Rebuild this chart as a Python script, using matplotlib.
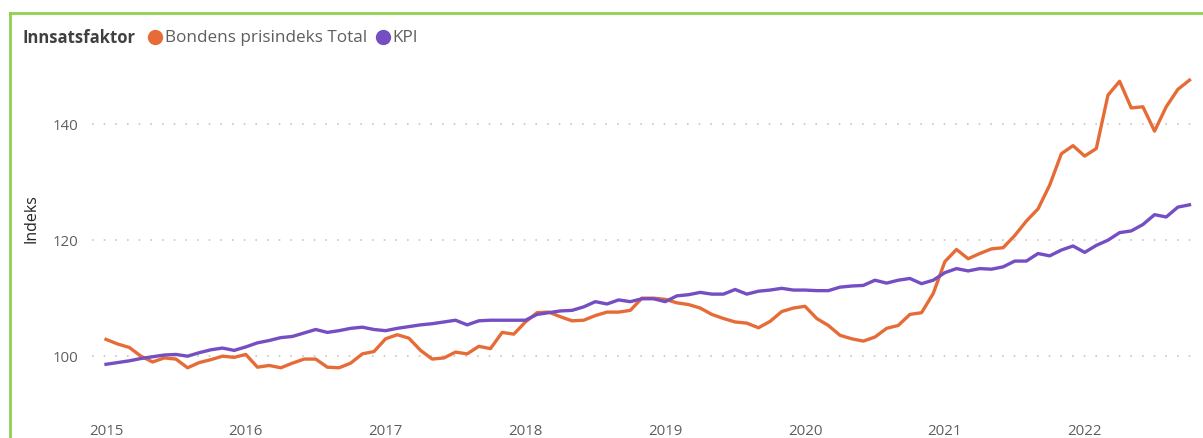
import numpy as np
import matplotlib.pyplot as plt
from matplotlib.lines import Line2D

plt.rcParams['font.family'] = ['Open Sans', 'DejaVu Sans']

# Monthly index values, Jan 2015 - Oct 2022
years = ['2015', '2016', '2017', '2018', '2019', '2020', '2021', '2022']

bondens = [
    102.8, 102.0, 101.4, 99.9, 98.9, 99.6, 99.4, 97.9, 98.8, 99.3, 99.9, 99.7,
    100.2, 98.0, 98.3, 97.9, 98.7, 99.4, 99.4, 98.0, 97.9, 98.7, 100.3, 100.7,
    102.9, 103.6, 103.0, 100.9, 99.4, 99.6, 100.6, 100.3, 101.6, 101.2, 104.0, 103.7,
    105.8, 107.4, 107.5, 106.7, 106.0, 106.1, 106.9, 107.5, 107.5, 107.8, 109.9, 109.9,
    109.7, 109.1, 108.8, 108.2, 107.1, 106.4, 105.8, 105.6, 104.8, 105.9, 107.6, 108.2,
    108.5, 106.4, 105.2, 103.5, 102.9, 102.5, 103.2, 104.7, 105.2, 107.1, 107.4, 110.7,
    116.2, 118.3, 116.7, 117.6, 118.4, 118.6, 120.7, 123.2, 125.3, 129.4, 134.8, 136.2,
    134.4, 135.7, 144.9, 147.3, 142.7, 142.9, 138.7, 142.9, 145.9, 147.5,
]

kpi = [
    98.5, 98.8, 99.1, 99.5, 99.8, 100.1, 100.2, 99.9, 100.5, 101.0, 101.3, 100.9,
    101.5, 102.2, 102.6, 103.1, 103.3, 103.9, 104.5, 104.0, 104.3, 104.7, 104.9, 104.5,
    104.3, 104.7, 105.0, 105.3, 105.5, 105.8, 106.1, 105.3, 106.0, 106.1, 106.1, 106.1,
    106.1, 107.1, 107.4, 107.7, 107.8, 108.4, 109.3, 108.9, 109.6, 109.3, 109.8, 109.8,
    109.3, 110.3, 110.5, 110.9, 110.6, 110.6, 111.4, 110.6, 111.1, 111.3, 111.6, 111.3,
    111.3, 111.2, 111.2, 111.8, 112.0, 112.1, 113.0, 112.5, 113.0, 113.3, 112.4, 113.0,
    114.3, 115.0, 114.6, 115.0, 114.9, 115.3, 116.3, 116.3, 117.6, 117.2, 118.2, 118.9,
    117.8, 119.0, 119.9, 121.2, 121.5, 122.6, 124.3, 123.9, 125.6, 126.0,
]

orange = '#E66C37'
purple = '#744EC2'
text_grey = '#605E5C'

x = np.arange(len(bondens))

fig = plt.figure(figsize=(12.03, 4.39), dpi=100)
ax = fig.add_axes([0.0765, 0.082, 0.921, 0.7927])

ax.plot(x, bondens, color=orange, lw=2.4, solid_joinstyle='round', zorder=3)
ax.plot(x, kpi, color=purple, lw=2.4, solid_joinstyle='round', zorder=3)

ax.set_xlim(-1.2, 93.9)
ax.set_ylim(92, 152)
ax.set_yticks([100, 120, 140])
ax.set_xticks(np.arange(len(years)) * 12)
ax.set_xticklabels(years)
ax.tick_params(length=0, labelsize=10.8, colors=text_grey)
ax.tick_params(axis='y', pad=10)
ax.tick_params(axis='x', pad=15)
ax.grid(True, axis='y', color='#C8C6C4', linestyle=(0, (1, 6)), lw=1.2)
for s in ax.spines.values():
    s.set_visible(False)
ax.set_ylabel('Indeks', fontsize=11.5, color='#252423')
ax.yaxis.set_label_coords(-0.047, 0.53)

# card border (green, top and left)
fig.add_artist(Line2D([10 / 1203, 1], [0.969, 0.969], color='#92D050', lw=2))
fig.add_artist(Line2D([10 / 1203, 10 / 1203], [0, 0.969], color='#92D050', lw=2))

# legend
ly = 1 - 38 / 439
fig.text(22 / 1203, ly, 'Innsatsfaktor', fontsize=12, fontweight='bold',
         color='#404040', va='center', ha='left')
fig.add_artist(Line2D([155 / 1203], [ly], marker='o', ms=10, color=orange, lw=0))
fig.text(165 / 1203, ly, 'Bondens prisindeks Total', fontsize=12.3,
         color=text_grey, va='center', ha='left')
fig.add_artist(Line2D([383 / 1203], [ly], marker='o', ms=10, color=purple, lw=0))
fig.text(392 / 1203, ly, 'KPI', fontsize=12.3, color=text_grey,
         va='center', ha='left')

fig.savefig('out.png', dpi=100)
